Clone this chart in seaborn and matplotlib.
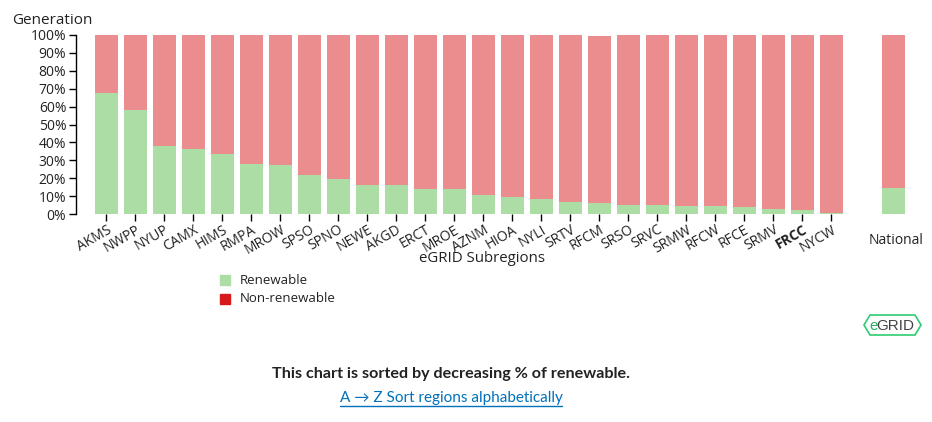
import matplotlib
matplotlib.use("Agg")
import matplotlib.pyplot as plt
from matplotlib.patches import Polygon
from matplotlib.lines import Line2D
import pandas as pd
import seaborn as sns

regions = ["AKMS", "NWPP", "NYUP", "CAMX", "HIMS", "RMPA", "MROW", "SPSO", "SPNO",
           "NEWE", "AKGD", "ERCT", "MROE", "AZNM", "HIOA", "NYLI", "SRTV", "RFCM",
           "SRSO", "SRVC", "SRMW", "RFCW", "RFCE", "SRMV", "FRCC", "NYCW"]
renewable = [67.4, 58.1, 38.2, 36.5, 33.7, 28.0, 27.3, 22.0, 19.8,
             16.3, 16.1, 14.1, 13.7, 10.7, 9.5, 8.5, 6.8, 6.3,
             5.3, 5.1, 4.6, 4.6, 3.9, 2.9, 2.4, 0.8]
non_renewable = [32.6, 41.9, 61.8, 63.5, 66.3, 72.0, 72.7, 78.0, 80.2,
                 83.7, 83.9, 85.9, 86.3, 89.3, 90.5, 91.5, 93.2, 93.2,
                 94.7, 94.9, 95.4, 95.4, 96.1, 97.1, 97.6, 99.2]
national_renewable = [14.6]
national_non_renewable = [85.4]
highlight = "FRCC"

GREEN = "#abdda4"
PINK = "#eb8d8f"
RED = "#d7191c"
TEXT = "#222222"

sns.set_theme(style="white")
plt.rcParams["font.family"] = ["Open Sans", "DejaVu Sans"]

df = pd.DataFrame({"region": regions, "renewable": renewable, "non_renewable": non_renewable})
df["total"] = df["renewable"] + df["non_renewable"]
nat = pd.DataFrame({"region": ["National"], "renewable": national_renewable,
                    "non_renewable": national_non_renewable})
nat["total"] = nat["renewable"] + nat["non_renewable"]

W, H = 932, 422
fig = plt.figure(figsize=(W / 100, H / 100), dpi=100)

def fx(px):
    return px / W

def fy(py):
    return 1 - py / H

ax_bottom, ax_top = fy(214), fy(35)
ax = fig.add_axes([fx(76), ax_bottom, fx(850 - 76), ax_top - ax_bottom])

bar_kw = dict(saturation=1, width=0.79, linewidth=0, edgecolor="none")
sns.barplot(data=df, x="region", y="total", color=PINK, ax=ax, **bar_kw)
sns.barplot(data=df, x="region", y="renewable", color=GREEN, ax=ax, **bar_kw)

ax.set_xlim(-1.05, 25.64)
ax.set_ylim(0, 100)
ax.set_yticks(range(0, 101, 10))
ax.set_yticklabels([f"{v}%" for v in range(0, 101, 10)], fontsize=10, color=TEXT)
ax.set_xlabel("")
ax.set_ylabel("")
for s in ["top", "right", "bottom"]:
    ax.spines[s].set_visible(False)
ax.spines["left"].set_color("black")
ax.spines["left"].set_linewidth(1)
ax.tick_params(axis="y", length=5, width=1, color="black", pad=2, left=True)
ax.tick_params(axis="x", length=5, width=1, color="black", pad=1, bottom=True)
ax.set_xticks(range(len(regions)))
ax.set_xticklabels(regions, rotation=30, ha="right", va="top",
                   rotation_mode="anchor", fontsize=10, color=TEXT)
for lbl in ax.get_xticklabels():
    if lbl.get_text() == highlight:
        lbl.set_fontweight("bold")

ax2 = fig.add_axes([fx(879), ax_bottom, fx(29), ax_top - ax_bottom])
sns.barplot(data=nat, x="region", y="total", color=PINK, ax=ax2, **bar_kw)
sns.barplot(data=nat, x="region", y="renewable", color=GREEN, ax=ax2, **bar_kw)
ax2.set_xlim(-0.5, 0.5)
ax2.set_ylim(0, 100)
ax2.set_axis_off()
fig.text(fx(896), fy(241), "National", ha="center", va="center", fontsize=10, color=TEXT)

fig.text(fx(12), fy(20), "Generation", ha="left", va="center", fontsize=11, color=TEXT)
fig.text(fx(482), fy(259), "eGRID Subregions", ha="center", va="center", fontsize=10.8, color=TEXT)

# legend
for i, (lab, col) in enumerate([("Renewable", GREEN), ("Non-renewable", RED)]):
    yy = 280 + i * 19
    fig.patches.append(plt.Rectangle((fx(220), fy(yy + 5)), fx(10), fy(yy - 5) - fy(yy + 5),
                                     transform=fig.transFigure, color=col))
    fig.text(fx(240), fy(yy), lab, ha="left", va="center", fontsize=9.5, color=TEXT)

# eGRID badge
hx = [864, 870, 915, 921, 915, 870]
hy = [325, 315, 315, 325, 335, 335]
fig.patches.append(Polygon([(fx(a), fy(b)) for a, b in zip(hx, hy)], closed=True,
                           transform=fig.transFigure, fill=False, edgecolor="#2ecc71", lw=1.2))
fig.text(fx(869), fy(325.5), "e", ha="left", va="center", fontsize=11, color="#27ae60",
         family=["Liberation Sans", "DejaVu Sans"])
fig.text(fx(876.5), fy(325.5), "GRID", ha="left", va="center", fontsize=11, color="#444444",
         family=["Liberation Sans", "DejaVu Sans"])

fig.text(fx(451), fy(374), "This chart is sorted by decreasing % of renewable.",
         ha="center", va="center", fontsize=11.6, fontweight="bold", color=TEXT,
         family=["Lato", "DejaVu Sans"])
link = fig.text(fx(451), fy(398), "A \u2192 Z Sort regions alphabetically",
                ha="center", va="center", fontsize=11, color="#0071bc",
                family=["Lato", "DejaVu Sans"])

fig.canvas.draw()
bb = link.get_window_extent(renderer=fig.canvas.get_renderer())
x0, x1 = bb.x0 / fig.bbox.width, bb.x1 / fig.bbox.width
yline = fy(406)
fig.lines.append(Line2D([x0, x1], [yline, yline], transform=fig.transFigure,
                        color="#0071bc", lw=1))

fig.savefig("out.png", dpi=100)
